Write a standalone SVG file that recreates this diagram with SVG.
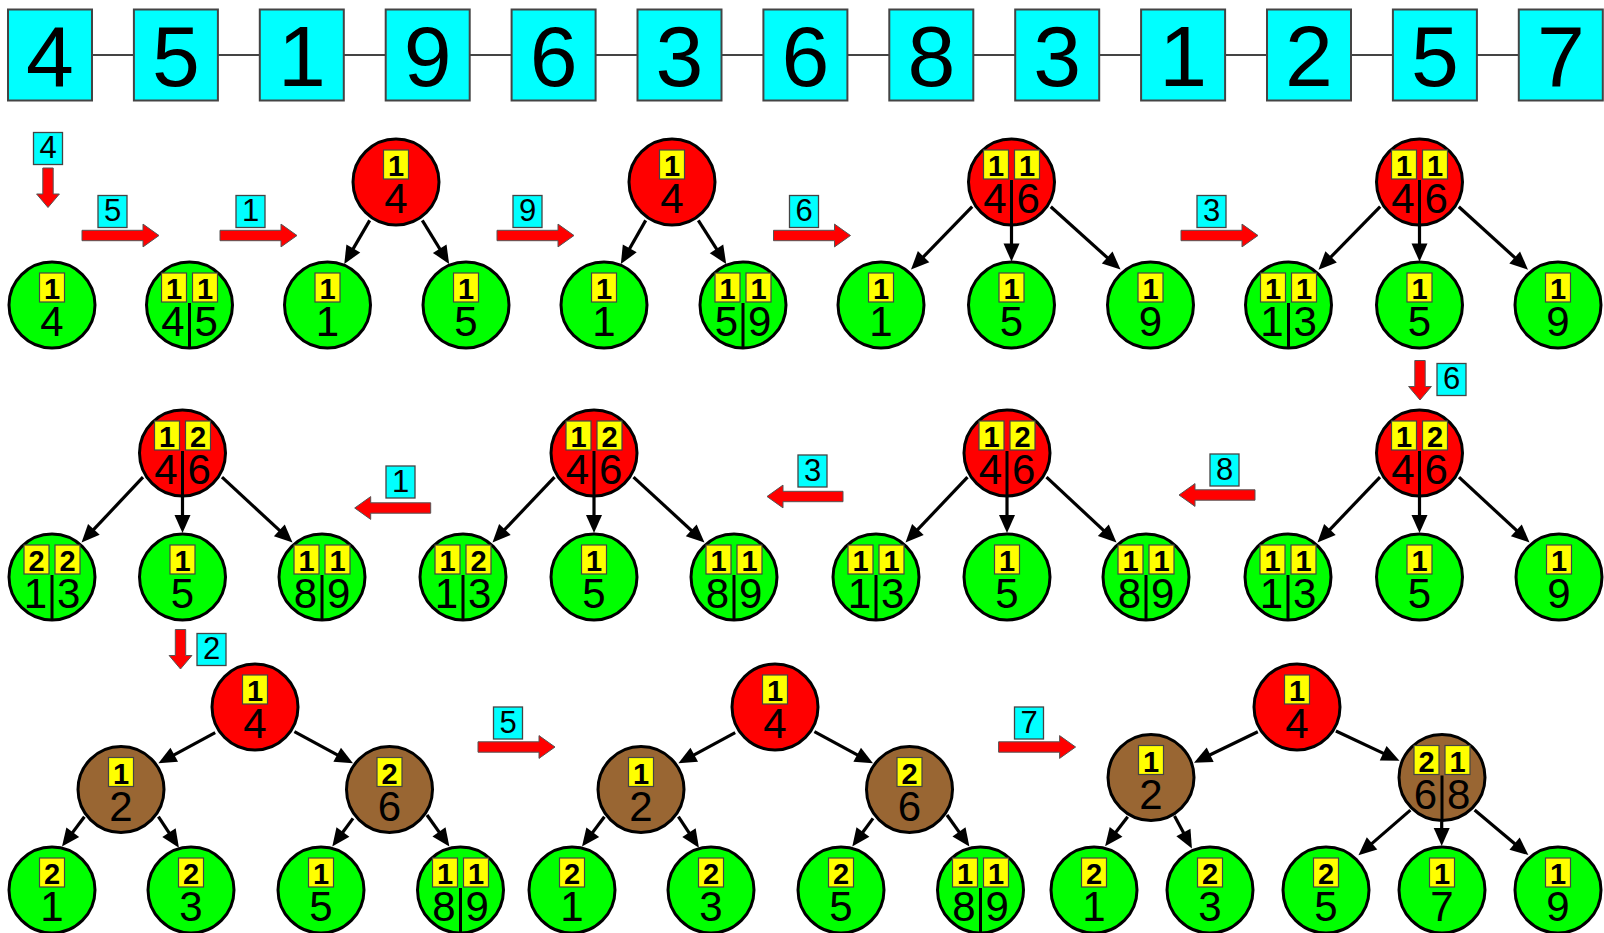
<svg xmlns="http://www.w3.org/2000/svg" width="1604" height="933" viewBox="0 0 1604 933">
<style>
text{font-family:"Liberation Sans",Arial,sans-serif;fill:#000}
circle{stroke:#000;stroke-width:3}
.g>circle{fill:#00ff00}
.r>circle{fill:#ff0000}
.b>circle{fill:#996633}
.y{fill:#ffff00;stroke:#444;stroke-width:1.2}
.k{font-weight:bold;font-size:29px;text-anchor:middle}
.v{font-size:42px;text-anchor:middle}
.vl{text-anchor:end}
.vr{text-anchor:start}
.sep{stroke:#000;stroke-width:3;fill:none}
.tb{fill:#00ffff;stroke:#444;stroke-width:2}
.tt{font-size:86px;text-anchor:middle}
.c{fill:#00ffff;stroke:#444;stroke-width:1.3}
.ct{font-size:31px;text-anchor:middle}
.ra{fill:#ff0000;stroke:#555;stroke-width:1}
.e{stroke:#000;stroke-width:3.2;fill:none;marker-end:url(#ah)}
.tl{stroke:#444;stroke-width:2}
</style>
<defs>
<marker id="ah" markerUnits="userSpaceOnUse" markerWidth="18" markerHeight="16" refX="8" refY="8" orient="auto" overflow="visible"><path d="M0,0 L18,8 L0,16 z" fill="#000"/></marker>
</defs>

<g id="connectors">
<line class="tl" x1="50" y1="55" x2="1560" y2="55"/>
<!-- row 1 -->
<line class="e" x1="369.7" y1="220.4" x2="349.3" y2="255.4"/>
<line class="e" x1="422.3" y1="220.4" x2="443.9" y2="255.5"/>
<line class="e" x1="645.7" y1="220.4" x2="625.8" y2="255.3"/>
<line class="e" x1="698.3" y1="220.4" x2="720.8" y2="255.6"/>
<line class="e" x1="972.2" y1="206.7" x2="918" y2="262.4"/>
<line class="e" x1="1011.5" y1="226" x2="1011.5" y2="251.5"/>
<line class="e" x1="1050.8" y1="206.7" x2="1113.1" y2="262.9"/>
<line class="e" x1="1380.2" y1="206.7" x2="1325.5" y2="262.5"/>
<line class="e" x1="1419.5" y1="226" x2="1419.5" y2="251.5"/>
<line class="e" x1="1458.8" y1="206.7" x2="1520.6" y2="262.9"/>
<!-- row 2 -->
<line class="e" x1="143" y1="477.1" x2="88.4" y2="535.2"/>
<line class="e" x1="182.5" y1="497" x2="182.5" y2="523"/>
<line class="e" x1="222" y1="477.1" x2="285.2" y2="535.7"/>
<line class="e" x1="554.5" y1="477.1" x2="499.4" y2="535.2"/>
<line class="e" x1="594" y1="497" x2="594" y2="523"/>
<line class="e" x1="633.5" y1="477.1" x2="697.1" y2="535.7"/>
<line class="e" x1="967.5" y1="477.1" x2="912.4" y2="535.2"/>
<line class="e" x1="1007" y1="497" x2="1007" y2="523"/>
<line class="e" x1="1046.5" y1="477.1" x2="1109.2" y2="535.7"/>
<line class="e" x1="1380" y1="477.1" x2="1324.4" y2="535.3"/>
<line class="e" x1="1419.5" y1="497" x2="1419.5" y2="523"/>
<line class="e" x1="1459" y1="477.1" x2="1522.2" y2="535.7"/>
<!-- row 3 -->
<line class="e" x1="215.2" y1="732.7" x2="167.2" y2="758.6"/>
<line class="e" x1="294.4" y1="731.7" x2="344.2" y2="758.6"/>
<line class="e" x1="84.4" y1="816.7" x2="68" y2="838.6"/>
<line class="e" x1="158.4" y1="816.7" x2="173.4" y2="839.3"/>
<line class="e" x1="353" y1="818.4" x2="338.2" y2="838.5"/>
<line class="e" x1="427" y1="815" x2="443.6" y2="838.4"/>
<line class="e" x1="735.2" y1="732.7" x2="687.2" y2="758.6"/>
<line class="e" x1="814.4" y1="731.7" x2="864.2" y2="758.6"/>
<line class="e" x1="604.4" y1="816.7" x2="588" y2="838.6"/>
<line class="e" x1="678.4" y1="816.7" x2="693.4" y2="839.3"/>
<line class="e" x1="873" y1="818.4" x2="858.2" y2="838.5"/>
<line class="e" x1="947" y1="815" x2="963.6" y2="838.4"/>
<line class="e" x1="1257.8" y1="731.7" x2="1203" y2="758.3"/>
<line class="e" x1="1335.9" y1="731" x2="1390.4" y2="756.6"/>
<line class="e" x1="1127.7" y1="816.7" x2="1111.2" y2="838.2"/>
<line class="e" x1="1174.5" y1="816" x2="1187.2" y2="839.6"/>
<line class="e" x1="1410.4" y1="810.1" x2="1366" y2="848.6"/>
<line class="e" x1="1441.7" y1="821.6" x2="1441.7" y2="836"/>
<line class="e" x1="1474.6" y1="810.1" x2="1520.7" y2="848.7"/>
</g>

<g id="sequence">
<g id="s1"><rect class="tb" x="8" y="9.5" width="84" height="91"/><text class="tt" x="50" y="86">4</text></g>
<g id="s2"><rect class="tb" x="133.9" y="9.5" width="84" height="91"/><text class="tt" x="175.9" y="86">5</text></g>
<g id="s3"><rect class="tb" x="259.8" y="9.5" width="84" height="91"/><text class="tt" x="301.8" y="86">1</text></g>
<g id="s4"><rect class="tb" x="385.7" y="9.5" width="84" height="91"/><text class="tt" x="427.7" y="86">9</text></g>
<g id="s5"><rect class="tb" x="511.6" y="9.5" width="84" height="91"/><text class="tt" x="553.6" y="86">6</text></g>
<g id="s6"><rect class="tb" x="637.5" y="9.5" width="84" height="91"/><text class="tt" x="679.5" y="86">3</text></g>
<g id="s7"><rect class="tb" x="763.4" y="9.5" width="84" height="91"/><text class="tt" x="805.4" y="86">6</text></g>
<g id="s8"><rect class="tb" x="889.3" y="9.5" width="84" height="91"/><text class="tt" x="931.3" y="86">8</text></g>
<g id="s9"><rect class="tb" x="1015.2" y="9.5" width="84" height="91"/><text class="tt" x="1057.2" y="86">3</text></g>
<g id="s10"><rect class="tb" x="1141.1" y="9.5" width="84" height="91"/><text class="tt" x="1183.1" y="86">1</text></g>
<g id="s11"><rect class="tb" x="1267" y="9.5" width="84" height="91"/><text class="tt" x="1309" y="86">2</text></g>
<g id="s12"><rect class="tb" x="1392.9" y="9.5" width="84" height="91"/><text class="tt" x="1434.9" y="86">5</text></g>
<g id="s13"><rect class="tb" x="1518.8" y="9.5" width="84" height="91"/><text class="tt" x="1560.8" y="86">7</text></g>
</g>

<g id="steps">
<g id="step4"><rect class="c" x="33.5" y="132.5" width="29" height="32"/><text class="ct" x="48" y="158">4</text>
<polygon class="ra" points="42.8,168 53.2,168 53.2,194 59.4,194 48,207.5 36.6,194 42.8,194"/></g>
<g id="step5"><rect class="c" x="98" y="195.5" width="29" height="32"/><text class="ct" x="112.5" y="221">5</text>
<polygon class="ra" points="82,230.3 143,230.3 143,224.1 159,235.5 143,246.9 143,240.7 82,240.7"/></g>
<g id="step1"><rect class="c" x="236" y="195.5" width="29" height="32"/><text class="ct" x="250.5" y="221">1</text>
<polygon class="ra" points="220,230.3 281,230.3 281,224.1 297,235.5 281,246.9 281,240.7 220,240.7"/></g>
<g id="step9"><rect class="c" x="513" y="195.5" width="29" height="32"/><text class="ct" x="527.5" y="221">9</text>
<polygon class="ra" points="497,230.3 558,230.3 558,224.1 574,235.5 558,246.9 558,240.7 497,240.7"/></g>
<g id="step6"><rect class="c" x="789.5" y="195.5" width="29" height="32"/><text class="ct" x="804" y="221">6</text>
<polygon class="ra" points="773.5,230.3 834.5,230.3 834.5,224.1 850.5,235.5 834.5,246.9 834.5,240.7 773.5,240.7"/></g>
<g id="step3"><rect class="c" x="1197" y="195.5" width="29" height="32"/><text class="ct" x="1211.5" y="221">3</text>
<polygon class="ra" points="1181,230.3 1242,230.3 1242,224.1 1258,235.5 1242,246.9 1242,240.7 1181,240.7"/></g>
<g id="step6b"><rect class="c" x="1437" y="363.5" width="29" height="32"/><text class="ct" x="1451.5" y="389">6</text>
<polygon class="ra" points="1414.8,360.5 1425.2,360.5 1425.2,386.5 1431.4,386.5 1420,400 1408.6,386.5 1414.8,386.5"/></g>
<g id="step8"><rect class="c" x="1210" y="454" width="29" height="32"/><text class="ct" x="1224.5" y="479.5">8</text>
<polygon class="ra" points="1179,495 1195,483.6 1195,489.8 1255,489.8 1255,500.2 1195,500.2 1195,506.4"/></g>
<g id="step3b"><rect class="c" x="798" y="455" width="29" height="32"/><text class="ct" x="812.5" y="480.5">3</text>
<polygon class="ra" points="767,496.5 783,485.1 783,491.3 843,491.3 843,501.7 783,501.7 783,507.9"/></g>
<g id="step1b"><rect class="c" x="386" y="466" width="29" height="32"/><text class="ct" x="400.5" y="491.5">1</text>
<polygon class="ra" points="354.7,508 370.7,496.6 370.7,502.8 430.7,502.8 430.7,513.2 370.7,513.2 370.7,519.4"/></g>
<g id="step2"><rect class="c" x="197" y="633.5" width="29" height="32"/><text class="ct" x="211.5" y="659">2</text>
<polygon class="ra" points="175.3,629.5 185.7,629.5 185.7,655.5 191.9,655.5 180.5,669 169.1,655.5 175.3,655.5"/></g>
<g id="step5b"><rect class="c" x="493.5" y="707" width="29" height="32"/><text class="ct" x="508" y="732.5">5</text>
<polygon class="ra" points="478,741.8 539,741.8 539,735.6 555,747 539,758.4 539,752.2 478,752.2"/></g>
<g id="step7"><rect class="c" x="1014.5" y="707" width="29" height="32"/><text class="ct" x="1029" y="732.5">7</text>
<polygon class="ra" points="998.6,741.8 1059.6,741.8 1059.6,735.6 1075.6,747 1059.6,758.4 1059.6,752.2 998.6,752.2"/></g>
</g>

<g id="nodes">
<!-- Row 1 -->
<g id="r1n1" class="g" transform="translate(52,305)"><circle r="43"/><rect class="y" x="-12.5" y="-32" width="25" height="29"/><text class="k" y="-6">1</text><text class="v" y="31">4</text></g>
<g id="r1n2" class="g" transform="translate(189.5,305)"><circle r="43"/><rect class="y" x="-28" y="-32" width="25" height="29"/><rect class="y" x="3" y="-32" width="25" height="29"/><text class="k" x="-15.5" y="-6">1</text><text class="k" x="15.5" y="-6">1</text><path class="sep" d="M0-2V44"/><text class="v vl" x="-5" y="31">4</text><text class="v vr" x="5" y="31">5</text></g>

<g id="r1t1p" class="r" transform="translate(396,182)"><circle r="43"/><rect class="y" x="-12.5" y="-32" width="25" height="29"/><text class="k" y="-6">1</text><text class="v" y="31">4</text></g>
<g id="r1t1a" class="g" transform="translate(327.5,305)"><circle r="43"/><rect class="y" x="-12.5" y="-32" width="25" height="29"/><text class="k" y="-6">1</text><text class="v" y="31">1</text></g>
<g id="r1t1b" class="g" transform="translate(466,305)"><circle r="43"/><rect class="y" x="-12.5" y="-32" width="25" height="29"/><text class="k" y="-6">1</text><text class="v" y="31">5</text></g>

<g id="r1t2p" class="r" transform="translate(672,182)"><circle r="43"/><rect class="y" x="-12.5" y="-32" width="25" height="29"/><text class="k" y="-6">1</text><text class="v" y="31">4</text></g>
<g id="r1t2a" class="g" transform="translate(604,305)"><circle r="43"/><rect class="y" x="-12.5" y="-32" width="25" height="29"/><text class="k" y="-6">1</text><text class="v" y="31">1</text></g>
<g id="r1t2b" class="g" transform="translate(743,305)"><circle r="43"/><rect class="y" x="-28" y="-32" width="25" height="29"/><rect class="y" x="3" y="-32" width="25" height="29"/><text class="k" x="-15.5" y="-6">1</text><text class="k" x="15.5" y="-6">1</text><path class="sep" d="M0-2V44"/><text class="v vl" x="-5" y="31">5</text><text class="v vr" x="5" y="31">9</text></g>

<g id="r1t3p" class="r" transform="translate(1011.5,182)"><circle r="43"/><rect class="y" x="-28" y="-32" width="25" height="29"/><rect class="y" x="3" y="-32" width="25" height="29"/><text class="k" x="-15.5" y="-6">1</text><text class="k" x="15.5" y="-6">1</text><path class="sep" d="M0-2V44"/><text class="v vl" x="-5" y="31">4</text><text class="v vr" x="5" y="31">6</text></g>
<g id="r1t3a" class="g" transform="translate(881,305)"><circle r="43"/><rect class="y" x="-12.5" y="-32" width="25" height="29"/><text class="k" y="-6">1</text><text class="v" y="31">1</text></g>
<g id="r1t3b" class="g" transform="translate(1011.5,305)"><circle r="43"/><rect class="y" x="-12.5" y="-32" width="25" height="29"/><text class="k" y="-6">1</text><text class="v" y="31">5</text></g>
<g id="r1t3c" class="g" transform="translate(1150.5,305)"><circle r="43"/><rect class="y" x="-12.5" y="-32" width="25" height="29"/><text class="k" y="-6">1</text><text class="v" y="31">9</text></g>

<g id="r1t4p" class="r" transform="translate(1419.5,182)"><circle r="43"/><rect class="y" x="-28" y="-32" width="25" height="29"/><rect class="y" x="3" y="-32" width="25" height="29"/><text class="k" x="-15.5" y="-6">1</text><text class="k" x="15.5" y="-6">1</text><path class="sep" d="M0-2V44"/><text class="v vl" x="-5" y="31">4</text><text class="v vr" x="5" y="31">6</text></g>
<g id="r1t4a" class="g" transform="translate(1288.5,305)"><circle r="43"/><rect class="y" x="-28" y="-32" width="25" height="29"/><rect class="y" x="3" y="-32" width="25" height="29"/><text class="k" x="-15.5" y="-6">1</text><text class="k" x="15.5" y="-6">1</text><path class="sep" d="M0-2V44"/><text class="v vl" x="-5" y="31">1</text><text class="v vr" x="5" y="31">3</text></g>
<g id="r1t4b" class="g" transform="translate(1419.5,305)"><circle r="43"/><rect class="y" x="-12.5" y="-32" width="25" height="29"/><text class="k" y="-6">1</text><text class="v" y="31">5</text></g>
<g id="r1t4c" class="g" transform="translate(1558,305)"><circle r="43"/><rect class="y" x="-12.5" y="-32" width="25" height="29"/><text class="k" y="-6">1</text><text class="v" y="31">9</text></g>

<!-- Row 2 -->
<g id="r2t1p" class="r" transform="translate(182.5,453)"><circle r="43"/><rect class="y" x="-28" y="-32" width="25" height="29"/><rect class="y" x="3" y="-32" width="25" height="29"/><text class="k" x="-15.5" y="-6">1</text><text class="k" x="15.5" y="-6">2</text><path class="sep" d="M0-2V44"/><text class="v vl" x="-5" y="31">4</text><text class="v vr" x="5" y="31">6</text></g>
<g id="r2t1a" class="g" transform="translate(52,577)"><circle r="43"/><rect class="y" x="-28" y="-32" width="25" height="29"/><rect class="y" x="3" y="-32" width="25" height="29"/><text class="k" x="-15.5" y="-6">2</text><text class="k" x="15.5" y="-6">2</text><path class="sep" d="M0-2V44"/><text class="v vl" x="-5" y="31">1</text><text class="v vr" x="5" y="31">3</text></g>
<g id="r2t1b" class="g" transform="translate(182.5,577)"><circle r="43"/><rect class="y" x="-12.5" y="-32" width="25" height="29"/><text class="k" y="-6">1</text><text class="v" y="31">5</text></g>
<g id="r2t1c" class="g" transform="translate(322,577)"><circle r="43"/><rect class="y" x="-28" y="-32" width="25" height="29"/><rect class="y" x="3" y="-32" width="25" height="29"/><text class="k" x="-15.5" y="-6">1</text><text class="k" x="15.5" y="-6">1</text><path class="sep" d="M0-2V44"/><text class="v vl" x="-5" y="31">8</text><text class="v vr" x="5" y="31">9</text></g>

<g id="r2t2p" class="r" transform="translate(594,453)"><circle r="43"/><rect class="y" x="-28" y="-32" width="25" height="29"/><rect class="y" x="3" y="-32" width="25" height="29"/><text class="k" x="-15.5" y="-6">1</text><text class="k" x="15.5" y="-6">2</text><path class="sep" d="M0-2V44"/><text class="v vl" x="-5" y="31">4</text><text class="v vr" x="5" y="31">6</text></g>
<g id="r2t2a" class="g" transform="translate(463,577)"><circle r="43"/><rect class="y" x="-28" y="-32" width="25" height="29"/><rect class="y" x="3" y="-32" width="25" height="29"/><text class="k" x="-15.5" y="-6">1</text><text class="k" x="15.5" y="-6">2</text><path class="sep" d="M0-2V44"/><text class="v vl" x="-5" y="31">1</text><text class="v vr" x="5" y="31">3</text></g>
<g id="r2t2b" class="g" transform="translate(594,577)"><circle r="43"/><rect class="y" x="-12.5" y="-32" width="25" height="29"/><text class="k" y="-6">1</text><text class="v" y="31">5</text></g>
<g id="r2t2c" class="g" transform="translate(734,577)"><circle r="43"/><rect class="y" x="-28" y="-32" width="25" height="29"/><rect class="y" x="3" y="-32" width="25" height="29"/><text class="k" x="-15.5" y="-6">1</text><text class="k" x="15.5" y="-6">1</text><path class="sep" d="M0-2V44"/><text class="v vl" x="-5" y="31">8</text><text class="v vr" x="5" y="31">9</text></g>

<g id="r2t3p" class="r" transform="translate(1007,453)"><circle r="43"/><rect class="y" x="-28" y="-32" width="25" height="29"/><rect class="y" x="3" y="-32" width="25" height="29"/><text class="k" x="-15.5" y="-6">1</text><text class="k" x="15.5" y="-6">2</text><path class="sep" d="M0-2V44"/><text class="v vl" x="-5" y="31">4</text><text class="v vr" x="5" y="31">6</text></g>
<g id="r2t3a" class="g" transform="translate(876,577)"><circle r="43"/><rect class="y" x="-28" y="-32" width="25" height="29"/><rect class="y" x="3" y="-32" width="25" height="29"/><text class="k" x="-15.5" y="-6">1</text><text class="k" x="15.5" y="-6">1</text><path class="sep" d="M0-2V44"/><text class="v vl" x="-5" y="31">1</text><text class="v vr" x="5" y="31">3</text></g>
<g id="r2t3b" class="g" transform="translate(1007,577)"><circle r="43"/><rect class="y" x="-12.5" y="-32" width="25" height="29"/><text class="k" y="-6">1</text><text class="v" y="31">5</text></g>
<g id="r2t3c" class="g" transform="translate(1146,577)"><circle r="43"/><rect class="y" x="-28" y="-32" width="25" height="29"/><rect class="y" x="3" y="-32" width="25" height="29"/><text class="k" x="-15.5" y="-6">1</text><text class="k" x="15.5" y="-6">1</text><path class="sep" d="M0-2V44"/><text class="v vl" x="-5" y="31">8</text><text class="v vr" x="5" y="31">9</text></g>

<g id="r2t4p" class="r" transform="translate(1419.5,453)"><circle r="43"/><rect class="y" x="-28" y="-32" width="25" height="29"/><rect class="y" x="3" y="-32" width="25" height="29"/><text class="k" x="-15.5" y="-6">1</text><text class="k" x="15.5" y="-6">2</text><path class="sep" d="M0-2V44"/><text class="v vl" x="-5" y="31">4</text><text class="v vr" x="5" y="31">6</text></g>
<g id="r2t4a" class="g" transform="translate(1288,577)"><circle r="43"/><rect class="y" x="-28" y="-32" width="25" height="29"/><rect class="y" x="3" y="-32" width="25" height="29"/><text class="k" x="-15.5" y="-6">1</text><text class="k" x="15.5" y="-6">1</text><path class="sep" d="M0-2V44"/><text class="v vl" x="-5" y="31">1</text><text class="v vr" x="5" y="31">3</text></g>
<g id="r2t4b" class="g" transform="translate(1419.5,577)"><circle r="43"/><rect class="y" x="-12.5" y="-32" width="25" height="29"/><text class="k" y="-6">1</text><text class="v" y="31">5</text></g>
<g id="r2t4c" class="g" transform="translate(1559,577)"><circle r="43"/><rect class="y" x="-12.5" y="-32" width="25" height="29"/><text class="k" y="-6">1</text><text class="v" y="31">9</text></g>

<!-- Row 3 -->
<g id="r3t1p" class="r" transform="translate(255,707)"><circle r="43"/><rect class="y" x="-12.5" y="-32" width="25" height="29"/><text class="k" y="-6">1</text><text class="v" y="31">4</text></g>
<g id="r3t1l" class="b" transform="translate(121,789.5)"><circle r="43"/><rect class="y" x="-12.5" y="-32" width="25" height="29"/><text class="k" y="-6">1</text><text class="v" y="31">2</text></g>
<g id="r3t1r" class="b" transform="translate(389.5,789.5)"><circle r="43"/><rect class="y" x="-12.5" y="-32" width="25" height="29"/><text class="k" y="-6">2</text><text class="v" y="31">6</text></g>
<g id="r3t1a" class="g" transform="translate(52,890)"><circle r="43"/><rect class="y" x="-12.5" y="-32" width="25" height="29"/><text class="k" y="-6">2</text><text class="v" y="31">1</text></g>
<g id="r3t1b" class="g" transform="translate(191,890)"><circle r="43"/><rect class="y" x="-12.5" y="-32" width="25" height="29"/><text class="k" y="-6">2</text><text class="v" y="31">3</text></g>
<g id="r3t1c" class="g" transform="translate(321,890)"><circle r="43"/><rect class="y" x="-12.5" y="-32" width="25" height="29"/><text class="k" y="-6">1</text><text class="v" y="31">5</text></g>
<g id="r3t1d" class="g" transform="translate(460.5,890)"><circle r="43"/><rect class="y" x="-28" y="-32" width="25" height="29"/><rect class="y" x="3" y="-32" width="25" height="29"/><text class="k" x="-15.5" y="-6">1</text><text class="k" x="15.5" y="-6">1</text><path class="sep" d="M0-2V44"/><text class="v vl" x="-5" y="31">8</text><text class="v vr" x="5" y="31">9</text></g>

<g id="r3t2p" class="r" transform="translate(775,707)"><circle r="43"/><rect class="y" x="-12.5" y="-32" width="25" height="29"/><text class="k" y="-6">1</text><text class="v" y="31">4</text></g>
<g id="r3t2l" class="b" transform="translate(641,789.5)"><circle r="43"/><rect class="y" x="-12.5" y="-32" width="25" height="29"/><text class="k" y="-6">1</text><text class="v" y="31">2</text></g>
<g id="r3t2r" class="b" transform="translate(909.5,789.5)"><circle r="43"/><rect class="y" x="-12.5" y="-32" width="25" height="29"/><text class="k" y="-6">2</text><text class="v" y="31">6</text></g>
<g id="r3t2a" class="g" transform="translate(572,890)"><circle r="43"/><rect class="y" x="-12.5" y="-32" width="25" height="29"/><text class="k" y="-6">2</text><text class="v" y="31">1</text></g>
<g id="r3t2b" class="g" transform="translate(711,890)"><circle r="43"/><rect class="y" x="-12.5" y="-32" width="25" height="29"/><text class="k" y="-6">2</text><text class="v" y="31">3</text></g>
<g id="r3t2c" class="g" transform="translate(841,890)"><circle r="43"/><rect class="y" x="-12.5" y="-32" width="25" height="29"/><text class="k" y="-6">2</text><text class="v" y="31">5</text></g>
<g id="r3t2d" class="g" transform="translate(980.5,890)"><circle r="43"/><rect class="y" x="-28" y="-32" width="25" height="29"/><rect class="y" x="3" y="-32" width="25" height="29"/><text class="k" x="-15.5" y="-6">1</text><text class="k" x="15.5" y="-6">1</text><path class="sep" d="M0-2V44"/><text class="v vl" x="-5" y="31">8</text><text class="v vr" x="5" y="31">9</text></g>

<g id="r3t3p" class="r" transform="translate(1297,707)"><circle r="43"/><rect class="y" x="-12.5" y="-32" width="25" height="29"/><text class="k" y="-6">1</text><text class="v" y="31">4</text></g>
<g id="r3t3l" class="b" transform="translate(1151,777.5)"><circle r="43"/><rect class="y" x="-12.5" y="-32" width="25" height="29"/><text class="k" y="-6">1</text><text class="v" y="31">2</text></g>
<g id="r3t3r" class="b" transform="translate(1442,777.5)"><circle r="43"/><rect class="y" x="-28" y="-32" width="25" height="29"/><rect class="y" x="3" y="-32" width="25" height="29"/><text class="k" x="-15.5" y="-6">2</text><text class="k" x="15.5" y="-6">1</text><path class="sep" d="M0-2V44"/><text class="v vl" x="-5" y="31">6</text><text class="v vr" x="5" y="31">8</text></g>
<g id="r3t3a" class="g" transform="translate(1094,890)"><circle r="43"/><rect class="y" x="-12.5" y="-32" width="25" height="29"/><text class="k" y="-6">2</text><text class="v" y="31">1</text></g>
<g id="r3t3b" class="g" transform="translate(1210,890)"><circle r="43"/><rect class="y" x="-12.5" y="-32" width="25" height="29"/><text class="k" y="-6">2</text><text class="v" y="31">3</text></g>
<g id="r3t3c" class="g" transform="translate(1326,890)"><circle r="43"/><rect class="y" x="-12.5" y="-32" width="25" height="29"/><text class="k" y="-6">2</text><text class="v" y="31">5</text></g>
<g id="r3t3d" class="g" transform="translate(1442,890)"><circle r="43"/><rect class="y" x="-12.5" y="-32" width="25" height="29"/><text class="k" y="-6">1</text><text class="v" y="31">7</text></g>
<g id="r3t3e" class="g" transform="translate(1558,890)"><circle r="43"/><rect class="y" x="-12.5" y="-32" width="25" height="29"/><text class="k" y="-6">1</text><text class="v" y="31">9</text></g>
</g>
</svg>
